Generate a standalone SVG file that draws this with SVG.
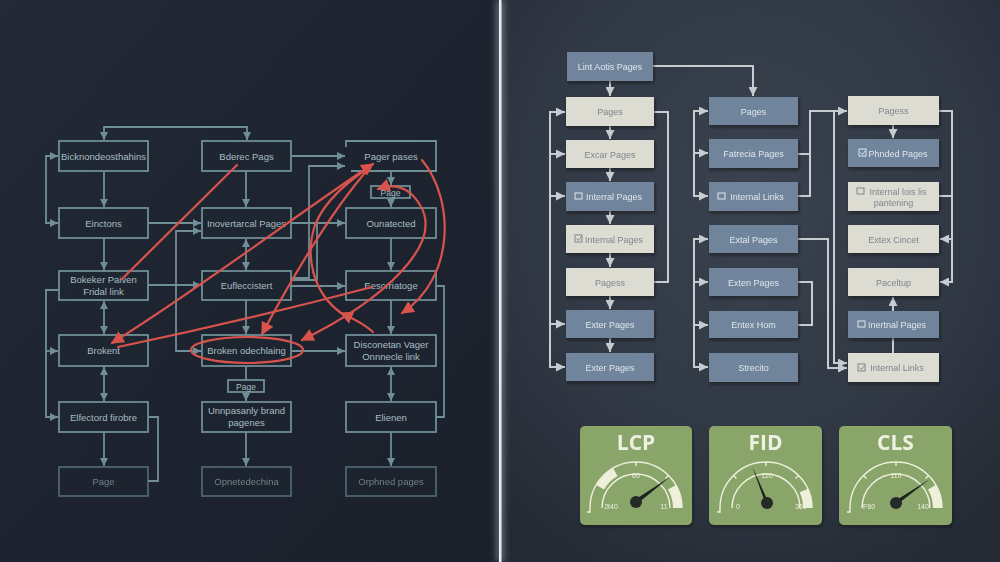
<svg xmlns="http://www.w3.org/2000/svg" width="1000" height="562" viewBox="0 0 1000 562">
<defs>
<linearGradient id="bgL" x1="0" y1="0" x2="1" y2="1">
<stop offset="0" stop-color="#222a36"/><stop offset="0.5" stop-color="#1d2430"/><stop offset="1" stop-color="#1a212b"/>
</linearGradient>
<radialGradient id="bgR" cx="0.5" cy="0.35" r="0.75">
<stop offset="0" stop-color="#3a424f"/><stop offset="0.6" stop-color="#303844"/><stop offset="1" stop-color="#232a34"/>
</radialGradient>
<filter id="glow" x="-5" y="0" width="11" height="1"><feGaussianBlur stdDeviation="3"/></filter>
<filter id="sh" x="-0.1" y="-0.2" width="1.3" height="1.6"><feDropShadow dx="1" dy="2" stdDeviation="1.5" flood-color="#0c1016" flood-opacity="0.6"/></filter>
<marker id="aL" viewBox="0 0 8 8" refX="8" refY="4" markerWidth="8" markerHeight="8" markerUnits="userSpaceOnUse" orient="auto-start-reverse"><path d="M0,0 L8,4 L0,8 z" fill="#6f8e96"/></marker>
<marker id="aR" viewBox="0 0 8 8" refX="8" refY="4" markerWidth="9" markerHeight="9" markerUnits="userSpaceOnUse" orient="auto-start-reverse"><path d="M0,0 L8,4 L0,8 z" fill="#c8ccd0"/></marker>
<marker id="aX" viewBox="0 0 10 10" refX="9" refY="5" markerWidth="13" markerHeight="13" markerUnits="userSpaceOnUse" orient="auto-start-reverse"><path d="M0,0 L10,5 L0,10 z" fill="#d9534d"/></marker>
<style>
.ln{fill:none;stroke:#6f8e96;stroke-width:1.8}
.nb{fill:#1f2833;fill-opacity:0.35;stroke:#6f8e96;stroke-width:1.8}
.tl{font-family:"Liberation Sans",Arial,sans-serif;font-size:9.5px;fill:#a8bcc2;text-anchor:middle}
.dim{opacity:0.6}
.red{fill:none;stroke:#d9534d;stroke-width:2.2;stroke-linecap:round}
.rc{fill:none;stroke:#c8ccd0;stroke-width:2}
.cr{fill:#dcdcd3}
.bl{fill:#6f849b}
.tc{font-family:"Liberation Sans",Arial,sans-serif;font-size:9px;fill:#80868c;text-anchor:middle}
.tb{font-family:"Liberation Sans",Arial,sans-serif;font-size:9px;fill:#e0e6ee;text-anchor:middle}
.ic{fill:none;stroke-width:1}
.gp{fill:#8aa56b}
.gt{font-family:"Open Sans","DejaVu Sans",sans-serif;font-size:21px;font-weight:bold;fill:#eef1e2;text-anchor:middle}
.ga{fill:none;stroke:#eef0dc;stroke-width:1.4}
.gb{fill:none;stroke:#eef0dc;stroke-width:9}
.gl{font-family:"Liberation Sans",Arial,sans-serif;font-size:7px;fill:#eef0dc;text-anchor:middle}
</style>
</defs>

<rect x="0" y="0" width="500" height="562" fill="url(#bgL)"/>
<rect x="500" y="0" width="500" height="562" fill="url(#bgR)"/>
<rect x="496" y="0" width="8" height="562" fill="#dfe8f0" opacity="0.35" filter="url(#glow)"/>
<rect x="499" y="0" width="2.5" height="562" fill="#e8eef3"/>

<!-- LEFT PANEL -->
<g id="left-connectors">
<path class="ln" d="M104,140 V127 H247 V140" marker-start="url(#aL)" marker-end="url(#aL)"/>
<path class="ln" d="M58,156 H46 V223 H58" marker-start="url(#aL)" marker-end="url(#aL)"/>
<path class="ln" d="M104,171 V207" marker-end="url(#aL)"/>
<path class="ln" d="M104,238 V270" marker-end="url(#aL)"/>
<path class="ln" d="M148,223 H201" marker-end="url(#aL)"/>
<path class="ln" d="M201,231 H176 V351 H201" marker-start="url(#aL)" marker-end="url(#aL)"/>
<path class="ln" d="M148,285 H201" marker-end="url(#aL)"/>
<path class="ln" d="M59,290 H46 V417 H58" marker-end="url(#aL)"/>
<path class="ln" d="M46,351 H58" marker-end="url(#aL)"/>
<path class="ln" d="M104,301 V334" marker-start="url(#aL)" marker-end="url(#aL)"/>
<path class="ln" d="M104,367 V401" marker-start="url(#aL)" marker-end="url(#aL)"/>
<path class="ln" d="M104,432 V466" marker-end="url(#aL)"/>
<path class="ln" d="M148,417 H158 V481 H148"/>
<path class="ln" d="M246,171 V207" marker-end="url(#aL)"/>
<path class="ln" d="M246,239 V270" marker-start="url(#aL)" marker-end="url(#aL)"/>
<path class="ln" d="M246,300 V334" marker-end="url(#aL)"/>
<path class="ln" d="M246,366 V380"/>
<path class="ln" d="M246,392 V401" marker-end="url(#aL)"/>
<path class="ln" d="M246,432 V466" marker-end="url(#aL)"/>
<path class="ln" d="M291,156 H345" marker-end="url(#aL)"/>
<path class="ln" d="M291,278 H309 V166 H345" marker-end="url(#aL)"/>
<path class="ln" d="M291,223 H345" marker-end="url(#aL)"/>
<path class="ln" d="M317,223 V280 H291"/>
<path class="ln" d="M291,286 H345" marker-end="url(#aL)"/>
<path class="ln" d="M391,171 V185" marker-end="url(#aL)"/>
<path class="ln" d="M391,198 V207" marker-end="url(#aL)"/>
<path class="ln" d="M391,238 V270" marker-end="url(#aL)"/>
<path class="ln" d="M391,300 V334" marker-end="url(#aL)"/>
<path class="ln" d="M291,351 H345" marker-end="url(#aL)"/>
<path class="ln" d="M391,367 V401" marker-start="url(#aL)" marker-end="url(#aL)"/>
<path class="ln" d="M391,432 V466" marker-end="url(#aL)"/>
<path class="ln" d="M436,286 H444 V417 H436"/>
</g>

<g id="l-bicknon"><rect class="nb" x="59" y="141" width="89" height="30"/><text class="tl" x="103.5" y="159.5">Bicknondeosthahins</text></g>
<g id="l-bderec"><rect class="nb" x="202" y="141" width="89" height="30"/><text class="tl" x="246.5" y="159.5">Bderec Pags</text></g>
<g id="l-pager"><path class="ln" d="M346,147 V141 H436 V171 H351"/><text class="tl" x="391" y="159.5">Pager pases</text></g>
<g id="l-page1"><rect class="nb" x="371" y="186" width="39" height="12"/><text class="tl" x="390.5" y="195.5" style="font-size:8.5px">Page</text></g>
<g id="l-einctons"><rect class="nb" x="59" y="208" width="89" height="30"/><text class="tl" x="103.5" y="226.5">Einctons</text></g>
<g id="l-inovert"><rect class="nb" x="202" y="208" width="89" height="30"/><text class="tl" x="246.5" y="226.5">Inovertarcal Pages</text></g>
<g id="l-ounat"><rect class="nb" x="346" y="208" width="90" height="30"/><text class="tl" x="391" y="226.5">Ounatected</text></g>
<g id="l-bokeker"><rect class="nb" x="59" y="271" width="89" height="29"/><text class="tl" x="103.5" y="283">Bokeker Paiven</text><text class="tl" x="103.5" y="295">Fridal link</text></g>
<g id="l-eufl"><rect class="nb" x="202" y="271" width="89" height="29"/><text class="tl" x="246.5" y="289">Eufleccistert</text></g>
<g id="l-eescr"><rect class="nb" x="346" y="271" width="90" height="29"/><text class="tl" x="391" y="289">Eescrriatoge</text></g>
<g id="l-brokent"><rect class="nb" x="59" y="335" width="89" height="31"/><text class="tl" x="103.5" y="354">Brokent</text></g>
<g id="l-brokenod"><rect class="nb" x="202" y="335" width="89" height="31"/><text class="tl" x="246.5" y="354">Broken odechlaing</text></g>
<g id="l-discon"><rect class="nb" x="346" y="335" width="90" height="31"/><text class="tl" x="391" y="348">Disconetan Vager</text><text class="tl" x="391" y="360">Onnnecle link</text></g>
<g id="l-page2"><rect class="nb" x="228" y="380" width="36" height="12"/><text class="tl" x="246" y="389.5" style="font-size:8.5px">Page</text></g>
<g id="l-elfect"><rect class="nb" x="59" y="402" width="89" height="30"/><text class="tl" x="103.5" y="420.5">Elfectord firobre</text></g>
<g id="l-unnpas"><rect class="nb" x="202" y="402" width="89" height="30"/><text class="tl" x="246.5" y="414">Unnpasanly brand</text><text class="tl" x="246.5" y="426">pagenes</text></g>
<g id="l-elienen"><rect class="nb" x="346" y="402" width="90" height="30"/><text class="tl" x="391" y="420.5">Elienen</text></g>
<g id="l-page3" class="dim"><rect class="nb" x="59" y="467" width="89" height="29"/><text class="tl" x="103.5" y="485">Page</text></g>
<g id="l-opnet" class="dim"><rect class="nb" x="202" y="467" width="89" height="29"/><text class="tl" x="246.5" y="485">Opnetedechina</text></g>
<g id="l-orph" class="dim"><rect class="nb" x="346" y="467" width="90" height="29"/><text class="tl" x="391" y="485">Orphned pages</text></g>

<g id="red-marks">
<path class="red" d="M122,279 L237,165"/>
<path class="red" d="M373,164 C 300,212 205,285 112,343" marker-start="url(#aX)" marker-end="url(#aX)"/>
<path class="red" d="M118,347 C 200,330 300,306 372,287"/>
<path class="red" d="M262,334 C 292,278 330,212 370,167" marker-start="url(#aX)"/>
<path class="red" d="M302,340 C 380,302 445,245 420,205 C 408,185 392,184 378,189" marker-start="url(#aX)" marker-end="url(#aX)"/>
<path class="red" d="M422,160 C 455,200 455,278 402,313" marker-end="url(#aX)"/>
<path class="red" d="M373,332 C 362,322 350,317 341,313" marker-end="url(#aX)"/>
<path class="red" d="M341,313 C 312,292 305,255 315,225 C 325,200 348,182 368,168"/>
<ellipse class="red" cx="247" cy="350" rx="56" ry="13"/>
</g>

<!-- RIGHT PANEL -->
<g id="right-connectors">
<path class="rc" d="M610,81 V96" marker-end="url(#aR)"/>
<path class="rc" d="M653,66 H753 V96" marker-end="url(#aR)"/>
<path class="rc" d="M610,126 V139" marker-end="url(#aR)"/>
<path class="rc" d="M610,168 V181" marker-end="url(#aR)"/>
<path class="rc" d="M610,211 V224" marker-end="url(#aR)"/>
<path class="rc" d="M610,253 V267" marker-end="url(#aR)"/>
<path class="rc" d="M610,296 V309" marker-end="url(#aR)"/>
<path class="rc" d="M610,338 V352" marker-end="url(#aR)"/>
<path class="rc" d="M565,112 H550 V367 H565" marker-start="url(#aR)" marker-end="url(#aR)"/>
<path class="rc" d="M550,154 H565" marker-end="url(#aR)"/>
<path class="rc" d="M550,196 H565" marker-end="url(#aR)"/>
<path class="rc" d="M550,324 H565" marker-end="url(#aR)"/>
<path class="rc" d="M654,112 H668 V282 H654"/>
<path class="rc" d="M708,111 H694 V196 H708" marker-start="url(#aR)" marker-end="url(#aR)"/>
<path class="rc" d="M694,153 H708" marker-end="url(#aR)"/>
<path class="rc" d="M708,239 H694 V367 H708" marker-start="url(#aR)" marker-end="url(#aR)"/>
<path class="rc" d="M694,282 H708" marker-end="url(#aR)"/>
<path class="rc" d="M694,325 H708" marker-end="url(#aR)"/>
<path class="rc" d="M798,154 H810 V111 H847" marker-end="url(#aR)"/>
<path class="rc" d="M798,196 H810 V154"/>
<path class="rc" d="M834,111 V363 H847" marker-end="url(#aR)"/>
<path class="rc" d="M798,239 H828 V368 H847" marker-end="url(#aR)"/>
<path class="rc" d="M798,282 H812 V325 H798"/>
<path class="rc" d="M893,125 V138" marker-end="url(#aR)"/>
<path class="rc" d="M939,111 H952 V282 H940" marker-end="url(#aR)"/>
<path class="rc" d="M952,239 H940" marker-end="url(#aR)"/>
<path class="rc" d="M939,196 H952"/>
<path class="rc" d="M893,311 V297" marker-end="url(#aR)"/>
<path class="rc" d="M893,338 V353"/>
</g>

<g id="r-lint" filter="url(#sh)"><rect class="bl" x="567" y="52" width="86" height="29"/><text class="tb" x="610" y="70">Lint Aotis Pages</text></g>
<g id="r-a1" filter="url(#sh)"><rect class="cr" x="566" y="97" width="88" height="29"/><text class="tc" x="610" y="115">Pages</text></g>
<g id="r-a2" filter="url(#sh)"><rect class="cr" x="566" y="140" width="88" height="28"/><text class="tc" x="610" y="157.5">Excar Pages</text></g>
<g id="r-a3" filter="url(#sh)"><rect class="bl" x="566" y="182" width="88" height="29"/><rect class="ic" stroke="#e0e6ee" x="575" y="193" width="7" height="6"/><text class="tb" x="614" y="200">Interral Pages</text></g>
<g id="r-a4" filter="url(#sh)"><rect class="cr" x="566" y="225" width="88" height="28"/><rect class="ic" stroke="#80868c" x="575" y="235" width="7" height="7"/><path class="ic" stroke="#80868c" d="M576.5,238.5 l2,2 l3,-4"/><text class="tc" x="614" y="242.5">Internal Pages</text></g>
<g id="r-a5" filter="url(#sh)"><rect class="cr" x="566" y="268" width="88" height="28"/><text class="tc" x="610" y="285.5">Pagess</text></g>
<g id="r-a6" filter="url(#sh)"><rect class="bl" x="566" y="310" width="88" height="28"/><text class="tb" x="610" y="327.5">Exter Pages</text></g>
<g id="r-a7" filter="url(#sh)"><rect class="bl" x="566" y="353" width="88" height="28"/><text class="tb" x="610" y="370.5">Exter Pages</text></g>

<g id="r-b1" filter="url(#sh)"><rect class="bl" x="709" y="97" width="89" height="28"/><text class="tb" x="753.5" y="114.5">Pages</text></g>
<g id="r-b2" filter="url(#sh)"><rect class="bl" x="709" y="139" width="89" height="29"/><text class="tb" x="753.5" y="157">Fatrecia Pages</text></g>
<g id="r-b3" filter="url(#sh)"><rect class="bl" x="709" y="182" width="89" height="29"/><rect class="ic" stroke="#e0e6ee" x="718" y="193" width="7" height="6"/><text class="tb" x="757" y="200">Internal Links</text></g>
<g id="r-b4" filter="url(#sh)"><rect class="bl" x="709" y="225" width="89" height="28"/><text class="tb" x="753.5" y="242.5">Extal Pages</text></g>
<g id="r-b5" filter="url(#sh)"><rect class="bl" x="709" y="268" width="89" height="28"/><text class="tb" x="753.5" y="285.5">Exten Pages</text></g>
<g id="r-b6" filter="url(#sh)"><rect class="bl" x="709" y="311" width="89" height="27"/><text class="tb" x="753.5" y="327.5">Entex Hom</text></g>
<g id="r-b7" filter="url(#sh)"><rect class="bl" x="709" y="353" width="89" height="29"/><text class="tb" x="753.5" y="371">Strecito</text></g>

<g id="r-c1" filter="url(#sh)"><rect class="cr" x="848" y="96" width="91" height="29"/><text class="tc" x="893.5" y="114">Pagess</text></g>
<g id="r-c2" filter="url(#sh)"><rect class="bl" x="848" y="139" width="91" height="28"/><rect class="ic" stroke="#e0e6ee" x="859" y="149" width="7" height="7"/><path class="ic" stroke="#e0e6ee" d="M860.5,152.5 l2,2 l3,-4"/><text class="tb" x="898" y="156.5">Phnded Pages</text></g>
<g id="r-c3" filter="url(#sh)"><rect class="cr" x="848" y="182" width="91" height="29"/><rect class="ic" stroke="#80868c" x="857" y="188" width="7" height="6"/><text class="tc" x="898" y="195">Internal lois lis</text><text class="tc" x="893.5" y="206">pantening</text></g>
<g id="r-c4" filter="url(#sh)"><rect class="cr" x="848" y="225" width="91" height="28"/><text class="tc" x="893.5" y="242.5">Extex Cincet</text></g>
<g id="r-c5" filter="url(#sh)"><rect class="cr" x="848" y="268" width="91" height="28"/><text class="tc" x="893.5" y="285.5">Paceltup</text></g>
<g id="r-c6" filter="url(#sh)"><rect class="bl" x="848" y="311" width="91" height="27"/><rect class="ic" stroke="#e0e6ee" x="858" y="321" width="7" height="6"/><text class="tb" x="897" y="327.5">Inertnal Pages</text></g>
<g id="r-c7" filter="url(#sh)"><rect class="cr" x="848" y="353" width="91" height="29"/><rect class="ic" stroke="#80868c" x="858" y="364" width="7" height="7"/><path class="ic" stroke="#80868c" d="M859.5,367.5 l2,2 l3,-4"/><text class="tc" x="897" y="371">Internal Links</text></g>

<!-- GAUGES -->
<g id="g-lcp" filter="url(#sh)">
<rect class="gp" x="580" y="426" width="112" height="99" rx="5"/>
<text class="gt" x="636" y="450">LCP</text>
<path class="ga" d="M590,508 A46,46 0 0 1 682,508"/>
<path class="ga" d="M602,508 A34,34 0 0 1 670,508"/>
<path class="gb" d="M600.1,487.3 A41.5,41.5 0 0 1 615.3,472.1"/>
<path class="gb" d="M671.9,487.3 A41.5,41.5 0 0 1 677.5,508"/>
<path class="ga" d="M636,462 v4 M668.5,475.5 l-3,3 M603.5,475.5 l3,3 M590,508 v4 h-3"/>
<text class="gl" x="611" y="509">2t40</text><text class="gl" x="664" y="509">11</text><text class="gl" x="636" y="478">60</text>
<polygon points="634.5,500 637.5,503.5 670,477" fill="#1f2420"/>
<circle cx="636" cy="502" r="6" fill="#262a28"/>
</g>
<g id="g-fid" filter="url(#sh)">
<rect class="gp" x="709" y="426" width="113" height="99" rx="5"/>
<text class="gt" x="765.5" y="450">FID</text>
<path class="ga" d="M720,508 A46,46 0 0 1 812,508"/>
<path class="ga" d="M732,508 A34,34 0 0 1 800,508"/>
<path class="gb" d="M803.8,490.5 A41.5,41.5 0 0 1 807.5,508"/>
<path class="ga" d="M766,462 v4 M798.5,475.5 l-3,3 M733.5,475.5 l3,3 M720,508 v4 h-3"/>
<text class="gl" x="738" y="509">0</text><text class="gl" x="801" y="509">360</text><text class="gl" x="767" y="478">120</text>
<polygon points="765.5,503.5 768.5,502.5 752,466" fill="#1f2420"/>
<circle cx="767" cy="503" r="6" fill="#262a28"/>
</g>
<g id="g-cls" filter="url(#sh)">
<rect class="gp" x="839" y="426" width="113" height="99" rx="5"/>
<text class="gt" x="895.5" y="450">CLS</text>
<path class="ga" d="M850,508 A46,46 0 0 1 942,508"/>
<path class="ga" d="M862,508 A34,34 0 0 1 930,508"/>
<path class="gb" d="M931.9,487.3 A41.5,41.5 0 0 1 937.5,508"/>
<path class="ga" d="M896,462 v4 M928.5,475.5 l-3,3 M863.5,475.5 l3,3 M850,508 v4 h-3"/>
<text class="gl" x="869" y="509">F80</text><text class="gl" x="923" y="509">140</text><text class="gl" x="896" y="478">110</text>
<polygon points="895,501 897,504.5 930,479" fill="#1f2420"/>
<circle cx="896" cy="503" r="6" fill="#262a28"/>
</g>
</svg>
